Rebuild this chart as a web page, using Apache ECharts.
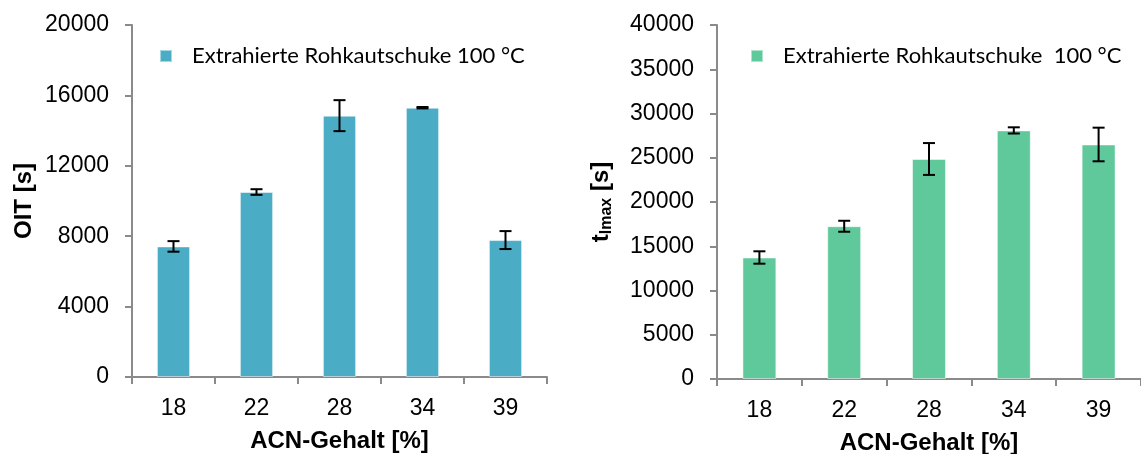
<!DOCTYPE html>
<html>
<head>
<meta charset="utf-8">
<script src="https://cdn.jsdelivr.net/npm/echarts@6/dist/echarts.min.js"></script>
<style>
html,body{margin:0;padding:0;background:#fff;}
#chart{width:1141px;height:454px;}
</style>
</head>
<body>
<div id="chart"></div>
<script>
// ---- data ----
const categories = ['18', '22', '28', '34', '39'];
const oitValues = [7420, 10510, 14850, 15300, 7780];
const oitErrors = [300, 160, 880, 40, 510];
const tValues = [13730, 17260, 24860, 28090, 26500];
const tErrors = [700, 620, 1800, 350, 1900];
const oitTicks = { min: 0, max: 20000, interval: 4000 };
const tTicks = { min: 0, max: 40000, interval: 5000 };
const seriesNameLeft = 'Extrahierte Rohkautschuke 100 °C';
const seriesNameRight = 'Extrahierte Rohkautschuke  100 °C';

const axisGray = '#8a8a8a';
const numFont = '"Liberation Sans", Arial, sans-serif';
const legendFont = 'Lato, "Open Sans", sans-serif';

function errData(vals, errs) {
  return vals.map((v, i) => [i, v - errs[i], v + errs[i]]);
}
function errRender(params, api) {
  const i = api.value(0);
  const lo = api.coord([i, api.value(1)]);
  const hi = api.coord([i, api.value(2)]);
  const hw = 6;
  const style = { stroke: '#000', lineWidth: 2 };
  return {
    type: 'group',
    children: [
      { type: 'line', shape: { x1: hi[0], y1: hi[1], x2: lo[0], y2: lo[1] }, style },
      { type: 'line', shape: { x1: hi[0] - hw, y1: hi[1], x2: hi[0] + hw, y2: hi[1] }, style },
      { type: 'line', shape: { x1: lo[0] - hw, y1: lo[1], x2: lo[0] + hw, y2: lo[1] }, style }
    ]
  };
}

function xAxis(gridIndex) {
  return {
    type: 'category', gridIndex, data: categories,
    axisLine: { lineStyle: { color: axisGray, width: 2 } },
    axisTick: { show: true, length: 7, lineStyle: { color: axisGray, width: 2 } },
    axisLabel: { color: '#000', fontFamily: numFont, fontSize: 23, margin: 20 },
    name: 'ACN-Gehalt [%]', nameLocation: 'middle', nameGap: 52,
    nameTextStyle: { color: '#000', fontFamily: numFont, fontSize: 24, fontWeight: 'bold' },
    splitLine: { show: false }
  };
}
function yAxis(gridIndex, ticks, name, nameGap, rich) {
  const o = {
    type: 'value', gridIndex, min: ticks.min, max: ticks.max, interval: ticks.interval,
    axisLine: { show: true, lineStyle: { color: axisGray, width: 2 } },
    axisTick: { show: true, length: 7, lineStyle: { color: axisGray, width: 2 } },
    axisLabel: { color: '#000', fontFamily: numFont, fontSize: 23, margin: 23, formatter: v => String(v) },
    splitLine: { show: false },
    name, nameLocation: 'middle', nameGap,
    nameTextStyle: { color: '#000', fontFamily: numFont, fontSize: 24, fontWeight: 'bold' }
  };
  if (rich) o.nameTextStyle.rich = rich;
  return o;
}

const chart = echarts.init(document.getElementById('chart'), null, { renderer: 'canvas' });
chart.setOption({
  animation: false,
  backgroundColor: '#fff',
  grid: [
    { left: 132, right: 594, top: 25, bottom: 77, containLabel: false, outerBoundsMode: 'none' },
    { left: 717, right: 0, top: 25, bottom: 75, containLabel: false, outerBoundsMode: 'none' }
  ],
  legend: [
    {
      data: [seriesNameLeft], left: 154, top: 40, itemWidth: 12, itemHeight: 12,
      icon: 'rect',
      textStyle: { fontFamily: legendFont, fontSize: 22, color: '#000', padding: [4, 0, 0, 15] }
    },
    {
      data: [seriesNameRight], left: 745, top: 40, itemWidth: 12, itemHeight: 12,
      icon: 'rect',
      textStyle: { fontFamily: legendFont, fontSize: 22, color: '#000', padding: [4, 0, 0, 15] }
    }
  ],
  xAxis: [xAxis(0), xAxis(1)],
  yAxis: [
    yAxis(0, oitTicks, 'OIT [s]', 96),
    yAxis(1, tTicks, '{b|t}{s|lmax}{b| [s]}', 104, {
      b: { fontFamily: numFont, fontSize: 24, fontWeight: 'bold', color: '#000', verticalAlign: 'top', lineHeight: 24 },
      s: { fontFamily: numFont, fontSize: 16, fontWeight: 'bold', color: '#000', verticalAlign: 'top', lineHeight: 16, padding: [10, 0, 0, 0] }
    })
  ],
  series: [
    {
      name: seriesNameLeft, type: 'bar', xAxisIndex: 0, yAxisIndex: 0,
      data: oitValues, barWidth: '40%',
      itemStyle: { color: '#4BACC6', borderColor: 'rgba(255,255,255,0.5)', borderWidth: 1 }
    },
    {
      type: 'custom', xAxisIndex: 0, yAxisIndex: 0, renderItem: errRender,
      data: errData(oitValues, oitErrors), z: 5, encode: { x: 0, y: [1, 2] }
    },
    {
      name: seriesNameRight, type: 'bar', xAxisIndex: 1, yAxisIndex: 1,
      data: tValues, barWidth: '40%',
      itemStyle: { color: '#5FC99B', borderColor: 'rgba(255,255,255,0.5)', borderWidth: 1 }
    },
    {
      type: 'custom', xAxisIndex: 1, yAxisIndex: 1, renderItem: errRender,
      data: errData(tValues, tErrors), z: 5, encode: { x: 0, y: [1, 2] }
    }
  ]
});
</script>
</body>
</html>
